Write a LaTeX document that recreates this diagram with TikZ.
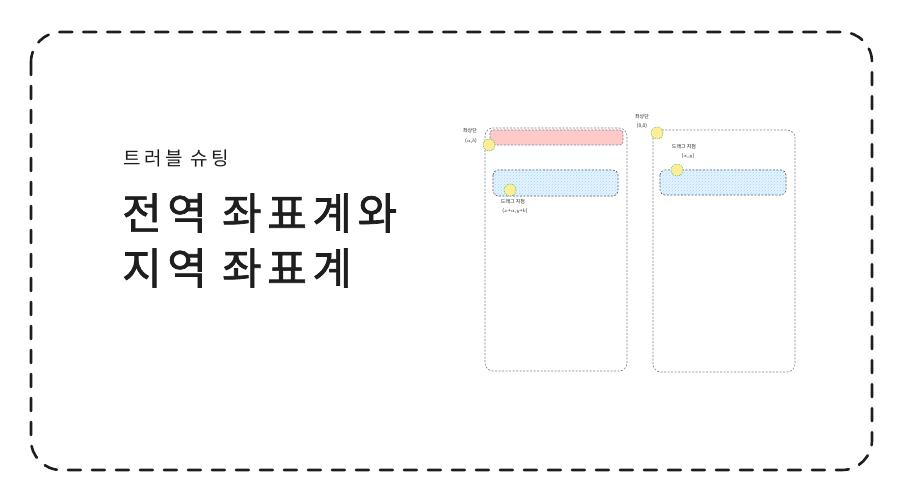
\documentclass[tikz,border=0pt]{standalone}
\usepackage{fontspec}
\setmainfont{Noto Sans CJK KR}
\usetikzlibrary{patterns}
\definecolor{ink}{HTML}{1E1E1E}
\definecolor{frame}{HTML}{7A7F86}
\definecolor{barred}{HTML}{FFC9C9}
\definecolor{boxblue}{HTML}{A5D8FF}
\definecolor{dotfill}{HTML}{FFEC99}
\definecolor{dotline}{HTML}{40C057}

\begin{document}
\begin{tikzpicture}[
        x=1pt, y=-1pt,
        border/.style={ink, line width=2.6pt, line cap=round,
            dash pattern=on 13pt off 11pt, rounded corners=30pt},
        panel/.style={frame, line width=0.6pt, dash pattern=on 2pt off 1.5pt,
            rounded corners=8pt},
        bar/.style={frame, fill=barred, line width=0.6pt,
            dash pattern=on 2pt off 1.5pt, rounded corners=3pt},
        zone/.style={ink!80, fill=boxblue!25, line width=0.6pt,
            dash pattern=on 2pt off 1.5pt, rounded corners=5pt,
            postaction={pattern=north east lines, pattern color=boxblue}},
        dot/.style={circle, fill=dotfill, draw=dotline, line width=0.5pt,
            dash pattern=on 1pt off 1pt, minimum size=12pt, inner sep=0pt},
        tiny/.style={font=\fontsize{5}{6}\selectfont, text=ink, inner sep=0pt},
        heading/.style={anchor=west, text=ink, inner sep=0pt},
    ]
    \useasboundingbox (0,0) rectangle (912,497);

    % frame
    \draw[border] (31,32) rectangle (872,470);

    % title
    \node[heading, font=\fontsize{19}{20}\selectfont\addfontfeature{LetterSpace=18}]
        (kicker) at (123,158) {트러블 슈팅};
    \node[heading, font=\fontsize{43}{50}\selectfont\addfontfeature{LetterSpace=13,FakeBold=1.6}]
        (title1) at (122,213) {전역 좌표계와};
    \node[heading, font=\fontsize{43}{50}\selectfont\addfontfeature{LetterSpace=13,FakeBold=1.6}]
        (title2) at (122,268) {지역 좌표계};

    % global
    \draw[panel] (485,128) rectangle (627,371);
    \draw[bar] (490,130) rectangle (623,145);
    \draw[zone] (493,170) rectangle (618,196);
    \node[dot] (globtl) at (489,145) {};
    \node[dot] (globdrag) at (510,190) {};
    \node[tiny] (globtltxt) at (470,131) {좌상단};
    \node[tiny] (globtlxy) at (471,141) {($a$,$b$)};
    \node[tiny] (globdragtxt) at (513,202) {드래그 지점};
    \node[tiny] (globdragxy) at (515,211) {($x$+$a$,$y$+$b$)};

    % local
    \draw[panel] (653,130) rectangle (795,372);
    \draw[zone] (660,170) rectangle (786,195);
    \node[dot] (loctl) at (657,133) {};
    \node[dot] (locdrag) at (677,170) {};
    \node[tiny] (loctltxt) at (642,117) {좌상단};
    \node[tiny] (loctlxy) at (642,126) {(0,0)};
    \node[tiny] (locdragtxt) at (684,147) {드래그 지점};
    \node[tiny] (locdragxy) at (688,156) {($x$,$y$)};
\end{tikzpicture}
\end{document}
